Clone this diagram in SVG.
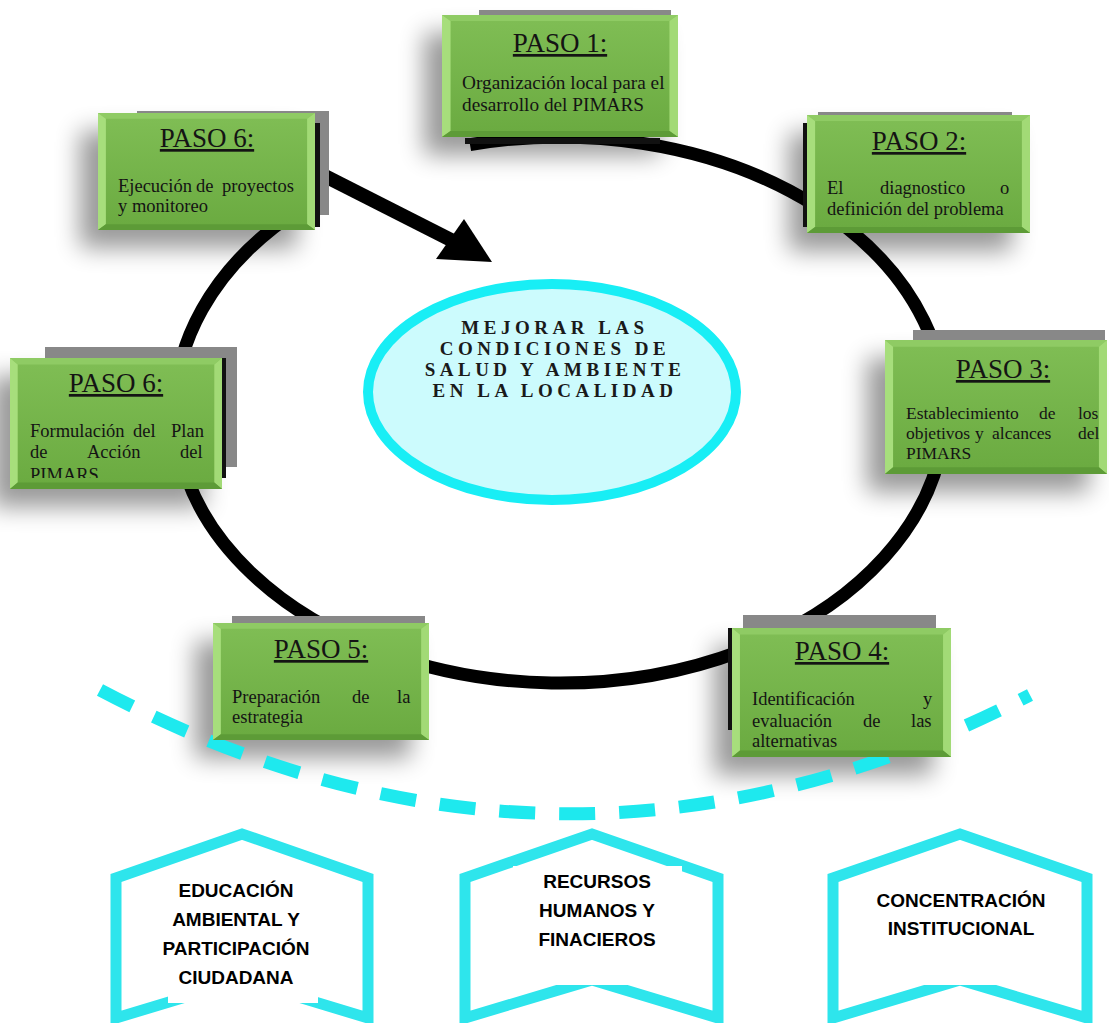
<svg xmlns="http://www.w3.org/2000/svg" xmlns:xlink="http://www.w3.org/1999/xlink" width="1109" height="1023" viewBox="0 0 1109 1023">
<defs>
  <linearGradient id="gg" x1="0" y1="0" x2="0" y2="1">
    <stop offset="0" stop-color="#80be55"/>
    <stop offset="1" stop-color="#6aaa40"/>
  </linearGradient>
  <symbol id="gb" viewBox="0 0 220 120" preserveAspectRatio="none">
    <rect width="220" height="120" fill="url(#gg)"/>
    <polygon points="0,0 220,0 212,6 8,6" fill="#8fcb64"/>
    <polygon points="0,0 8,6 8,114 0,120" fill="#a7de7c"/>
    <polygon points="220,0 220,120 212,114 212,6" fill="#a2da76"/>
    <polygon points="0,120 8,114 212,114 220,120" fill="#5d9b37"/>
  </symbol>
  <filter id="soft" x="-40%" y="-40%" width="180%" height="180%">
    <feGaussianBlur stdDeviation="12"/>
  </filter>
  <clipPath id="clip6">
    <rect x="0" y="340" width="240" height="138"/>
  </clipPath>
  <style>
    .shadow{fill:#000;opacity:.4;filter:url(#soft)}
    .back{fill:#888}
    .dark{fill:#111}
    .title{font-family:"Liberation Serif","Times New Roman",serif;font-size:27px;fill:#141414;text-anchor:middle;text-decoration:underline}
    .body{font-family:"Liberation Serif","Times New Roman",serif;font-size:18.5px;fill:#141414}
    .goal{font-family:"Liberation Serif","Times New Roman",serif;font-size:19px;font-weight:bold;fill:#1a1a1a;text-anchor:middle;letter-spacing:4.5px}
    .pent{fill:#fff;stroke:#2ee5ec;stroke-width:11;stroke-linejoin:miter}
    .plabel{font-family:"Liberation Sans",Arial,sans-serif;font-size:19px;font-weight:bold;fill:#000;text-anchor:middle}
  </style>
</defs>
<rect width="1109" height="1023" fill="#fff"/>

<!-- soft shadows -->
<g id="shadows">
  <rect class="shadow" x="424" y="33" width="236" height="122"/>
  <rect class="shadow" x="789" y="133" width="223" height="118"/>
  <rect class="shadow" x="867" y="358" width="222" height="134"/>
  <rect class="shadow" x="-8" y="376" width="212" height="131"/>
  <rect class="shadow" x="80" y="131" width="217" height="117"/>
  <rect class="shadow" x="195" y="641" width="216" height="117"/>
  <rect class="shadow" x="714" y="646" width="219" height="129"/>
</g>

<!-- connectors -->
<g id="connectors">
  <path d="M 100 690 Q 565 935 1030 695" fill="none" stroke="#1ee9ee" stroke-width="13" stroke-dasharray="36 24"/>
  <path d="M 470 144.6 A 385 273 0 1 1 300 208.7" fill="none" stroke="#000" stroke-width="13"/>
  <line x1="317" y1="172" x2="455" y2="242" stroke="#000" stroke-width="14"/>
  <polygon points="492,262 464,219 436,259" fill="#000"/>
</g>

<!-- center -->
<g id="goal">
  <ellipse cx="552" cy="392" rx="184" ry="108" fill="#ccfbfd" stroke="#18eef5" stroke-width="10"/>
  <text class="goal" x="555" y="334">MEJORAR LAS</text>
  <text class="goal" x="555" y="355">CONDICIONES DE</text>
  <text class="goal" x="555" y="376">SALUD Y AMBIENTE</text>
  <text class="goal" x="555" y="397">EN LA LOCALIDAD</text>
</g>

<!-- PASO 1 -->
<g id="paso1">
  <rect class="back" x="479" y="10" width="192" height="110"/>
  <rect class="dark" x="465" y="138" width="195" height="6"/>
  <use href="#gb" x="442" y="15" width="236" height="122"/>
  <text class="title" x="560" y="52">PASO 1:</text>
  <text class="body" x="462" y="89" style="font-size:19.3px">Organización local para el</text>
  <text class="body" x="462" y="111" style="font-size:19.3px">desarrollo del PIMARS</text>
</g>

<!-- PASO 2 -->
<g id="paso2">
  <rect class="back" x="818" y="112" width="194" height="110"/>
  <rect class="dark" x="803" y="123" width="5" height="104"/>
  <use href="#gb" x="807" y="115" width="223" height="118"/>
  <text class="title" x="919" y="150">PASO 2:</text>
  <text class="body" y="194"><tspan x="827">El</tspan><tspan x="880">diagnostico</tspan><tspan x="1000">o</tspan></text>
  <text class="body" x="827" y="215">definición del problema</text>
</g>

<!-- PASO 3 -->
<g id="paso3">
  <rect class="back" x="913" y="330" width="192" height="120"/>
  <use href="#gb" x="885" y="340" width="222" height="134"/>
  <text class="title" x="1003" y="378">PASO 3:</text>
  <g style="font-size:17.5px">
    <text class="body" y="419" style="font-size:17.5px"><tspan x="906">Establecimiento</tspan><tspan x="1039">de</tspan><tspan x="1078">los</tspan></text>
    <text class="body" y="439" style="font-size:17.5px"><tspan x="906">objetivos</tspan><tspan x="975">y</tspan><tspan x="992">alcances</tspan><tspan x="1078">del</tspan></text>
    <text class="body" x="906" y="459" style="font-size:17.5px">PIMARS</text>
  </g>
</g>

<!-- PASO 4 -->
<g id="paso4">
  <rect class="back" x="743" y="615" width="193" height="115"/>
  <rect class="dark" x="728" y="628" width="5" height="102"/>
  <use href="#gb" x="732" y="628" width="219" height="129"/>
  <text class="title" x="842" y="660">PASO 4:</text>
  <text class="body" y="705"><tspan x="752">Identificación</tspan><tspan x="923">y</tspan></text>
  <text class="body" y="727"><tspan x="752">evaluación</tspan><tspan x="863">de</tspan><tspan x="911">las</tspan></text>
  <text class="body" x="752" y="747">alternativas</text>
</g>

<!-- PASO 5 -->
<g id="paso5">
  <rect class="back" x="232" y="616" width="193" height="110"/>
  <use href="#gb" x="213" y="623" width="216" height="117"/>
  <text class="title" x="321" y="658">PASO 5:</text>
  <text class="body" y="703"><tspan x="232">Preparación</tspan><tspan x="352">de</tspan><tspan x="397">la</tspan></text>
  <text class="body" x="232" y="723">estrategia</text>
</g>

<!-- PASO 6 (Formulación) -->
<g id="paso6b">
  <rect class="back" x="45" y="347" width="192" height="120"/>
  <rect class="dark" x="222" y="358" width="4" height="120"/>
  <use href="#gb" x="10" y="358" width="212" height="131"/>
  <text class="title" x="116" y="392">PASO 6:</text>
  <g clip-path="url(#clip6)">
    <text class="body" y="437"><tspan x="30">Formulación</tspan><tspan x="133">del</tspan><tspan x="171">Plan</tspan></text>
    <text class="body" y="458"><tspan x="30">de</tspan><tspan x="87">Acción</tspan><tspan x="180">del</tspan></text>
    <text class="body" x="30" y="481">PIMARS</text>
  </g>
</g>

<!-- PASO 6 (Ejecución) -->
<g id="paso6a">
  <rect class="back" x="137" y="111" width="192" height="104"/>
  <rect class="dark" x="315" y="123" width="5" height="104"/>
  <use href="#gb" x="98" y="113" width="217" height="117"/>
  <text class="title" x="207" y="147">PASO 6:</text>
  <text class="body" y="192"><tspan x="118">Ejecución</tspan><tspan x="196">de</tspan><tspan x="222">proyectos</tspan></text>
  <text class="body" x="118" y="212">y monitoreo</text>
</g>

<!-- bottom pillars -->
<g id="pilar1">
  <polygon class="pent" points="116,878 242,834 368,878 368,1018 242,980 116,1018"/>
  <rect x="168" y="880" width="150" height="123" fill="#fff"/>
  <text class="plabel" x="236" y="897">EDUCACIÓN</text>
  <text class="plabel" x="236" y="926">AMBIENTAL Y</text>
  <text class="plabel" x="236" y="955">PARTICIPACIÓN</text>
  <text class="plabel" x="236" y="984">CIUDADANA</text>
</g>
<g id="pilar2">
  <polygon class="pent" points="465,878 592,834 718,878 718,1018 592,980 465,1018"/>
  <rect x="513" y="866" width="169" height="119" fill="#fff"/>
  <text class="plabel" x="597" y="888">RECURSOS</text>
  <text class="plabel" x="597" y="917">HUMANOS Y</text>
  <text class="plabel" x="597" y="946">FINACIEROS</text>
</g>
<g id="pilar3">
  <polygon class="pent" points="833,878 960,834 1087,878 1087,1018 960,980 833,1018"/>
  <rect x="870" y="884" width="180" height="101" fill="#fff"/>
  <text class="plabel" x="961" y="907">CONCENTRACIÓN</text>
  <text class="plabel" x="961" y="935">INSTITUCIONAL</text>
</g>
</svg>
